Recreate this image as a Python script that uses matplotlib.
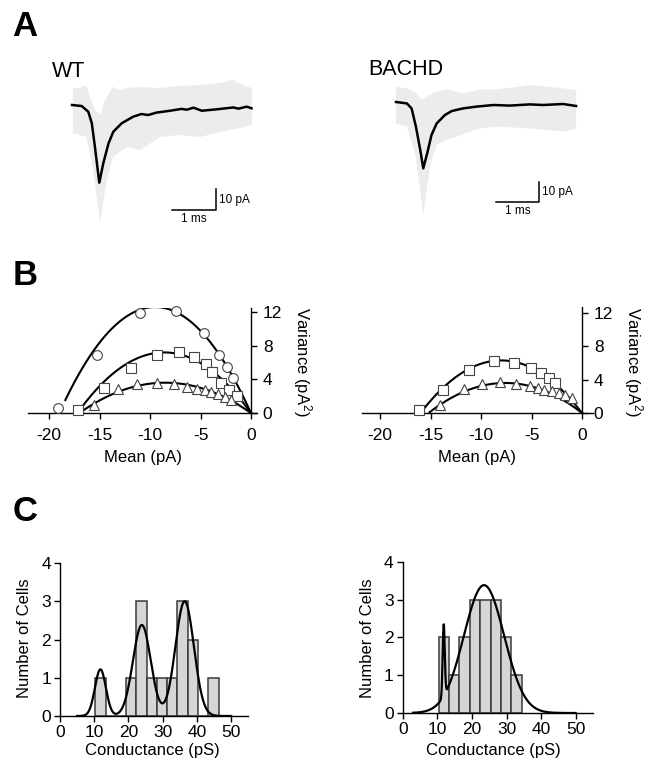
import numpy as np
import matplotlib
matplotlib.use("Agg")
import matplotlib.pyplot as plt

plt.rcParams['font.family'] = ['Liberation Sans', 'DejaVu Sans']
plt.rcParams['mathtext.default'] = 'regular'

# ---- panel A: mean currents (ms, pA) and spread of the single traces ----
wt_t = [0.0, 0.22, 0.37, 0.45, 0.52, 0.62, 0.71, 0.83, 0.94, 1.13, 1.39, 1.58, 1.73,
        1.92, 2.23, 2.49, 2.61, 2.76, 2.95, 3.29, 3.67, 3.78, 3.97, 4.08]
wt_i = [0.0, -0.5, -3.3, -8.9, -20.3, -37.9, -28.5, -18.7, -13.0, -8.9, -5.7, -4.4, -4.9,
        -3.7, -2.8, -1.9, -2.3, -1.3, -2.8, -2.1, -1.2, -1.8, -0.8, -1.6]
wt_hi_t = [0.02, 0.18, 0.32, 0.41, 0.52, 0.64, 0.75, 0.93, 1.09, 1.25, 1.55, 2.0, 2.45,
           2.91, 3.36, 3.66, 3.93, 4.09]
wt_hi = [8.3, 8.3, 9.8, 3.9, -2.4, -4.9, 2.4, 8.8, 7.3, 8.3, 8.8, 8.3, 9.3,
         9.8, 10.7, 12.2, 9.3, 8.3]
wt_lo_t = [0.02, 0.33, 0.48, 0.64, 0.79, 0.93, 1.24, 1.55, 2.0, 2.45, 2.91, 3.36, 3.82, 4.09]
wt_lo = [-13.7, -15.6, -31.7, -57.6, -36.6, -25.4, -20.5, -22.0, -15.6, -14.6, -15.6,
         -13.2, -11.2, -9.8]

hd_t = [0.0, 0.25, 0.36, 0.46, 0.56, 0.63, 0.72, 0.82, 0.94, 1.13, 1.29, 1.55, 1.86,
        2.25, 2.63, 3.09, 3.4, 3.86, 4.16]
hd_i = [0.0, -0.7, -3.2, -12.3, -24.0, -33.2, -25.7, -16.5, -10.7, -6.5, -4.5, -3.2, -2.3,
        -1.5, -1.8, -1.2, -1.5, -1.0, -2.0]
hd_hi_t = [0.0, 0.25, 0.44, 0.59, 0.71, 0.94, 1.21, 1.55, 1.94, 2.33, 2.71, 3.09, 3.48, 3.86, 4.16]
hd_hi = [7.7, 6.8, 5.2, 1.0, 2.7, 5.2, 6.3, 4.3, 6.3, 6.3, 7.3, 8.5, 7.7, 6.8, 6.0]
hd_lo_t = [0.0, 0.25, 0.44, 0.55, 0.63, 0.72, 0.82, 0.94, 1.13, 1.4, 1.71, 1.94, 2.33,
           3.09, 3.86, 4.16]
hd_lo = [-10.7, -12.3, -25.7, -42.3, -56.5, -42.3, -29.0, -21.5, -19.0, -17.3, -14.8,
         -13.2, -12.3, -13.2, -14.8, -13.2]

# ---- panel B: non-stationary noise analysis (mean pA, variance pA^2) ----
wt_circ_x = [-19.1, -15.3, -11.0, -7.4, -4.7, -3.2, -2.4, -1.8]
wt_circ_y = [0.6, 6.9, 11.9, 12.1, 9.5, 6.9, 5.5, 4.1]
wt_sq_x = [-17.1, -14.6, -11.9, -9.3, -7.1, -5.6, -4.5, -3.9, -3.0, -2.2, -1.4]
wt_sq_y = [0.4, 3.0, 5.4, 6.9, 7.2, 6.6, 5.8, 4.9, 3.6, 2.7, 2.0]
wt_tri_x = [-15.6, -13.2, -11.3, -9.3, -7.6, -6.3, -5.3, -4.6, -4.0, -3.3, -2.6, -2.0]
wt_tri_y = [0.9, 2.9, 3.5, 3.6, 3.5, 3.1, 2.9, 2.7, 2.5, 2.2, 1.9, 1.6]
hd_sq_x = [-16.2, -13.8, -11.2, -8.7, -6.7, -5.1, -4.1, -3.3, -2.7]
hd_sq_y = [0.3, 2.8, 5.2, 6.2, 6.0, 5.4, 4.8, 4.2, 3.6]
hd_tri_x = [-14.1, -11.7, -9.9, -8.1, -6.5, -5.2, -4.4, -3.8, -3.0, -2.3, -1.7, -1.0]
hd_tri_y = [1.0, 2.9, 3.5, 3.7, 3.5, 3.2, 3.0, 2.8, 2.6, 2.4, 2.1, 1.8]

# parabolic fits: (unitary current i, channel number N, first mean value drawn)
wt_circ_fit = (-2.65, 7.17, -18.4)
wt_sq_fit = (-1.674, 10.27, -16.9)
wt_tri_fit = (-0.847, 20.07, -16.7)
hd_sq_fit = (-1.575, 10.16, -15.7)
hd_tri_fit = (-0.947, 16.05, -15.1)

# ---- panel C: conductance histograms ----
wt_bins = [10.3, 13.3, 16.3, 19.3, 22.3, 25.3, 28.3, 31.3, 34.3, 37.3, 40.3, 43.3]
wt_counts = [1, 0, 0, 1, 3, 1, 1, 1, 3, 2, 0, 1]
hd_bins = [10.4, 13.4, 16.4, 19.4, 22.4, 25.4, 28.4, 31.4]
hd_counts = [2, 1, 2, 3, 3, 3, 2, 1]
bin_width = 3.0
# gaussian fits: (amplitude, mean, sd)
wt_gauss = [(1.22, 11.8, 1.6), (2.38, 23.9, 2.6), (3.0, 36.4, 2.7)]
hd_gauss = [(1.9, 11.85, 0.3), (3.38, 23.5, 5.8)]

W, H = 651, 767
fig = plt.figure(figsize=(W / 100, H / 100), dpi=100)


def px_axes(x0, y0, x1, y1):
    return fig.add_axes([x0 / W, 1 - y1 / H, (x1 - x0) / W, (y1 - y0) / H])


# panel A
def trace_panel(box, lims, t, i, hi_t, hi, lo_t, lo, bar):
    ax = px_axes(*box)
    ax.fill(np.r_[hi_t, lo_t[::-1]], np.r_[hi, lo[::-1]], color='#ececec', lw=0)
    ax.plot(t, i, color='black', lw=1.8)
    bx, by = bar
    ax.plot([bx, bx + 1, bx + 1], [by, by, by + 10], color='black', lw=1.1)
    ax.text(bx + 1.06, by + 5, '10 pA', fontsize=8.5, ha='left', va='center')
    ax.text(bx + 0.5, by - 1.5, '1 ms', fontsize=8.5, ha='center', va='top')
    ax.set_xlim(lims[0])
    ax.set_ylim(lims[1])
    ax.axis('off')


trace_panel((60, 70, 262, 232), ((-0.273, 4.318), (-61.95, 17.07)),
            wt_t, wt_i, wt_hi_t, wt_hi, wt_lo_t, wt_lo, (2.27, -51.2))
trace_panel((384, 70, 586, 232), ((-0.277, 4.388), (-65, 16)),
            hd_t, hd_i, hd_hi_t, hd_hi, hd_lo_t, hd_lo, (2.31, -50.0))

fig.text(12 / W, 1 - 36 / H, 'A', fontsize=25, fontweight='bold')
fig.text(52 / W, 1 - 77 / H, 'WT', fontsize=15.5)
fig.text(368 / W, 1 - 75 / H, 'BACHD', fontsize=15.5)


# panel B
def noise_panel(box, xlim, ylim, sets, ylab_x):
    ax = px_axes(*box)
    for (xs, ys, marker, ms), (i1, n, x0) in sets:
        xm = np.linspace(x0, 0, 200)
        ax.plot(xm, i1 * xm - xm ** 2 / n, color='black', lw=1.5, zorder=2)
        ax.plot(xs, ys, ls='none', marker=marker, ms=ms, mfc='white', mec='#444444',
                mew=0.8, zorder=3, clip_on=False)
    ax.set_xlim(xlim)
    ax.set_ylim(ylim)
    for s in ['top', 'left']:
        ax.spines[s].set_visible(False)
    ax.spines['right'].set_position(('data', 0))
    for s in ['right', 'bottom']:
        ax.spines[s].set_linewidth(1.0)
    ax.yaxis.tick_right()
    ax.set_xticks([-20, -15, -10, -5, 0])
    ax.set_xticklabels(['-20', '-15', '-10', '-5', '0'])
    ax.set_yticks([0, 4, 8, 12])
    ax.tick_params(direction='out', length=4.5, width=1.0, labelsize=12.5)
    ax.tick_params(axis='x', pad=6)
    ax.tick_params(axis='y', pad=4)
    ax.set_xlabel('Mean (pA)', fontsize=12, labelpad=5)
    fig.text(ylab_x / W, 1 - 362 / H, 'Variance (pA$^2$)', rotation=-90,
             fontsize=12, ha='center', va='center')


noise_panel((28, 308, 257, 413), (-22.1, 0.6), (0, 12.47),
            [((wt_circ_x, wt_circ_y, 'o', 7.0), wt_circ_fit),
             ((wt_sq_x, wt_sq_y, 's', 6.5), wt_sq_fit),
             ((wt_tri_x, wt_tri_y, '^', 6.5), wt_tri_fit)], 302)
noise_panel((362, 307, 593, 413), (-21.8, 1.09), (0, 12.7),
            [((hd_sq_x, hd_sq_y, 's', 6.5), hd_sq_fit),
             ((hd_tri_x, hd_tri_y, '^', 6.5), hd_tri_fit)], 633)

fig.text(13 / W, 1 - 285 / H, 'B', fontsize=25, fontweight='bold')


# panel C
def hist_panel(box, bins, counts, gauss, fit_range, ylab_x, xlab_x):
    ax = px_axes(*box)
    ax.bar(bins, counts, width=bin_width, align='edge', color='#d6d6d6',
           edgecolor='#3a3a3a', lw=1.1, zorder=2)
    g = np.linspace(fit_range[0], fit_range[1], 800)
    fit = sum(a * np.exp(-(g - m) ** 2 / (2 * s ** 2)) for a, m, s in gauss)
    ax.plot(g, fit, color='black', lw=1.6, zorder=3)
    ax.set_xlim(0, 54.9)
    ax.set_ylim(0, 4)
    for s in ['top', 'right']:
        ax.spines[s].set_visible(False)
    for s in ['left', 'bottom']:
        ax.spines[s].set_linewidth(1.0)
        ax.spines[s].set_zorder(4)
    ax.set_xticks([0, 10, 20, 30, 40, 50])
    ax.set_yticks([0, 1, 2, 3, 4])
    ax.tick_params(direction='out', length=4.5, width=1.0, labelsize=12.5, pad=2)
    fig.text(ylab_x / W, 1 - 638 / H, 'Number of Cells', rotation=90,
             fontsize=12, ha='center', va='center')
    fig.text(xlab_x / W, 1 - 751 / H, 'Conductance (pS)',
             fontsize=12, ha='center', va='center')


hist_panel((60, 563, 248, 716), wt_bins, wt_counts, wt_gauss, (5, 50), 25, 152)
hist_panel((402.7, 561.7, 592.7, 713), hd_bins, hd_counts, hd_gauss, (3, 50), 368, 493)

fig.text(13 / W, 1 - 521 / H, 'C', fontsize=25, fontweight='bold')

fig.savefig('out.png', dpi=100)
